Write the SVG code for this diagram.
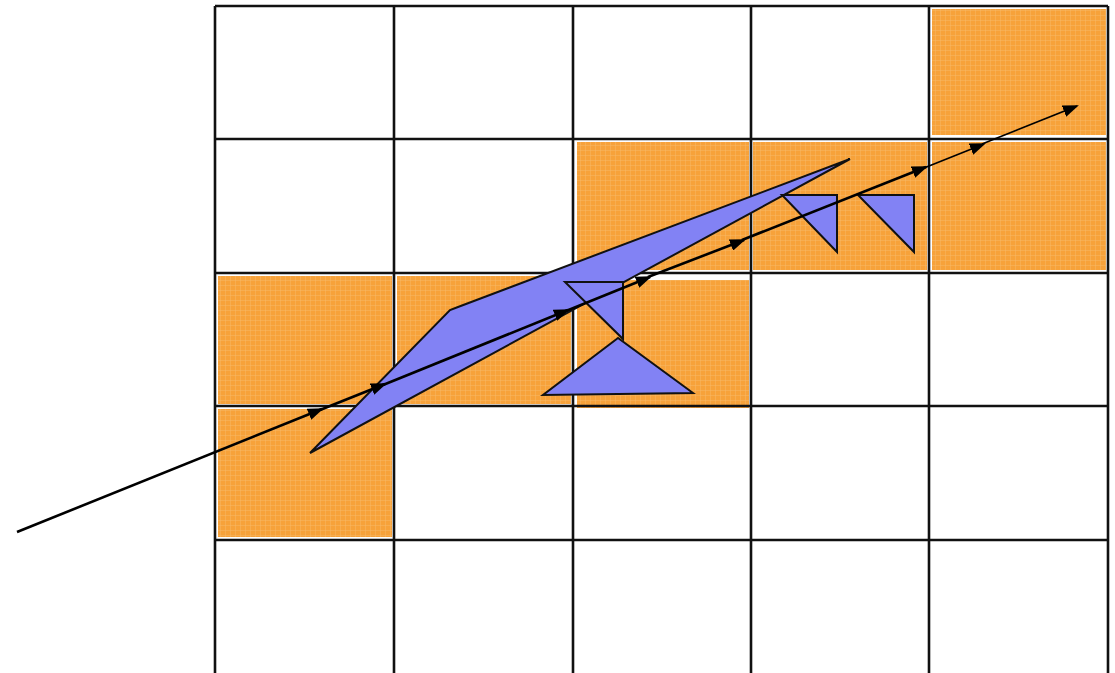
<svg xmlns="http://www.w3.org/2000/svg" width="1115" height="673" viewBox="0 0 1115 673">
<style>
.grid{stroke:#111;stroke-width:2.6;fill:none}
.cell{fill:url(#orangeTex)}
.shape{fill:#8282F4;stroke:#111;stroke-width:2;stroke-linejoin:miter}
.ray{stroke:#000;stroke-width:2.6;fill:none;marker-end:url(#arrow)}
.ray.thin{stroke-width:1.8}
</style>
<defs>
<pattern id="orangeTex" width="5" height="5" patternUnits="userSpaceOnUse">
<rect width="5" height="5" fill="#F7A23A"/>
<path d="M0 0.3H5M0.3 0V5" stroke="#F9BA68" stroke-width="0.6"/>
</pattern>
<marker id="arrow" viewBox="0 0 16 12" refX="14" refY="6" markerWidth="16" markerHeight="12" markerUnits="userSpaceOnUse" orient="auto">
<path d="M0 0L16 6L0 12Z" fill="#000"/>
</marker>
</defs>
<rect width="1115" height="673" fill="#fff"/>
<g id="cells">
<rect class="cell" x="218" y="276" width="174" height="128"/>
<rect class="cell" x="218" y="409" width="174" height="128"/>
<rect class="cell" x="397" y="276" width="174" height="128"/>
<rect class="cell" x="577" y="142" width="172" height="128"/>
<rect class="cell" x="577" y="280" width="172" height="128"/>
<rect class="cell" x="753" y="142" width="174" height="128"/>
<rect class="cell" x="932" y="9" width="174" height="126"/>
<rect class="cell" x="932" y="142" width="174" height="128"/>
</g>
<g id="grid" class="grid">
<path d="M215 6V673M394 6V673M573 6V673M751 6V673M929 6V673M1108 6V673"/>
<path d="M215 6H1108M215 139H1108M215 273H1108M215 406H1108M215 540H1108"/>
</g>
<g id="shapes">
<polygon id="wedge" class="shape" points="310,453 450,310 458,307 850,159"/>
<polygon id="tri1" class="shape" points="565,282 623,282 623,339"/>
<polygon id="tri2" class="shape" points="618,338 543,395 693,393"/>
<polygon id="tri3" class="shape" points="782,195 837,195 837,252"/>
<polygon id="tri4" class="shape" points="858,195 914,195 914,252"/>
</g>
<g id="connectors">
<line class="ray" x1="17" y1="532" x2="322" y2="409"/>
<line class="ray" x1="320" y1="410" x2="385" y2="384"/>
<line class="ray" x1="383" y1="385" x2="568" y2="310"/>
<line class="ray" x1="566" y1="311" x2="650" y2="277"/>
<line class="ray" x1="648" y1="277" x2="744" y2="240"/>
<line class="ray" x1="742" y1="240" x2="926" y2="167"/>
<line class="ray thin" x1="924" y1="168" x2="984" y2="144"/>
<line class="ray thin" x1="982" y1="144" x2="1077" y2="106"/>
</g>
</svg>
